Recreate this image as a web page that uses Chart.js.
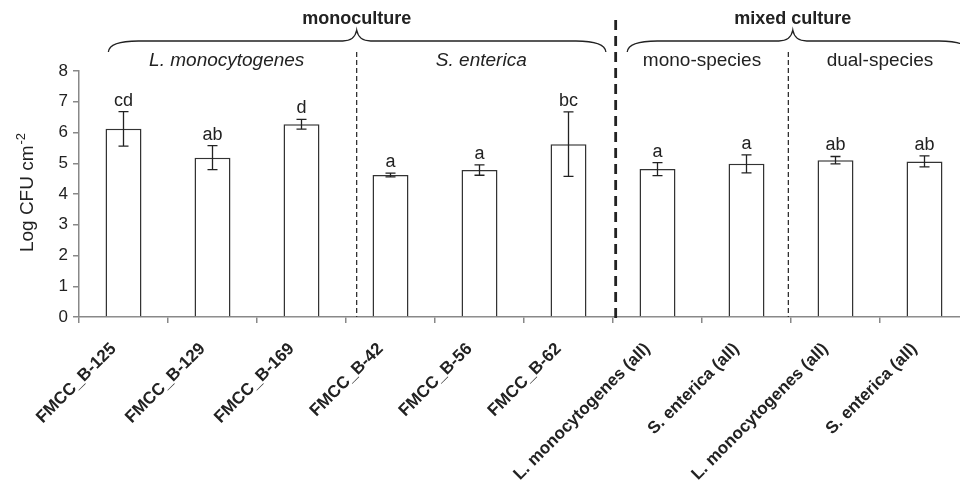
<!DOCTYPE html>
<html>
<head>
<meta charset="utf-8">
<script src="https://cdn.jsdelivr.net/npm/chart.js@4"></script>
<style>
  body { margin: 0; background: #fff; overflow: hidden; }
  #wrap { width: 970px; height: 481px; }
</style>
</head>
<body>
<div id="wrap"><canvas id="cfuChart" width="970" height="481"></canvas></div>
<script>
const labels = [
  "FMCC_B-125", "FMCC_B-129", "FMCC_B-169", "FMCC_B-42", "FMCC_B-56", "FMCC_B-62",
  "L. monocytogenes (all)", "S. enterica (all)", "L. monocytogenes (all)", "S. enterica (all)"
];
const means = [6.12, 5.18, 6.27, 4.62, 4.78, 5.62, 4.81, 4.98, 5.10, 5.06];
const errors = [0.56, 0.39, 0.16, 0.06, 0.17, 1.05, 0.21, 0.29, 0.12, 0.18];
const letters = ["cd", "ab", "d", "a", "a", "bc", "a", "a", "ab", "ab"];
const yTicks = [0, 1, 2, 3, 4, 5, 6, 7, 8];

// group headings, placed by category index
const groups = [
  { text: "monoculture", from: -0.17, tip: 2.62, to: 5.42 },
  { text: "mixed culture", from: 5.66, tip: 7.52, to: 9.5 }
];
const subgroups = [
  { text: "L. monocytogenes", at: 1.16, italic: true },
  { text: "S. enterica", at: 4.02, italic: true },
  { text: "mono-species", at: 6.5, italic: false },
  { text: "dual-species", at: 8.5, italic: false }
];
const dividers = [
  { at: 2.62, top: 52, width: 1.2, dash: [5, 3] },
  { at: 5.53, top: 20, width: 2.8, dash: [10, 6] },
  { at: 7.47, top: 52, width: 1.2, dash: [5, 3] }
];

const FONT = "'Liberation Sans', Arial, sans-serif";

const annotations = {
  id: "annotations",
  afterDatasetsDraw(chart) {
    const ctx = chart.ctx;
    const x = chart.scales.x;
    const y = chart.scales.y;
    const area = chart.chartArea;
    ctx.save();

    // error bars + letters
    ctx.strokeStyle = "#222";
    ctx.lineWidth = 1.3;
    ctx.fillStyle = "#222";
    ctx.font = "18px " + FONT;
    ctx.textAlign = "center";
    ctx.textBaseline = "alphabetic";
    means.forEach((m, i) => {
      const cx = x.getPixelForValue(i);
      const yt = y.getPixelForValue(m + errors[i]);
      const yb = y.getPixelForValue(m - errors[i]);
      ctx.beginPath();
      ctx.moveTo(cx, yt); ctx.lineTo(cx, yb);
      ctx.moveTo(cx - 5, yt); ctx.lineTo(cx + 5, yt);
      ctx.moveTo(cx - 5, yb); ctx.lineTo(cx + 5, yb);
      ctx.stroke();
      ctx.fillText(letters[i], cx, yt - 6);
    });

    // dashed dividers
    dividers.forEach((d) => {
      const px = x.getPixelForValue(d.at);
      ctx.beginPath();
      ctx.setLineDash(d.dash);
      ctx.lineWidth = d.width;
      ctx.strokeStyle = "#222";
      ctx.moveTo(px, d.top);
      ctx.lineTo(px, area.bottom + (d.width > 2 ? 5 : 0));
      ctx.stroke();
    });
    ctx.setLineDash([]);

    // braces and headings
    ctx.lineWidth = 1.3;
    groups.forEach((g) => {
      const x1 = x.getPixelForValue(g.from);
      const xm = x.getPixelForValue(g.tip);
      const x2 = x.getPixelForValue(g.to);
      const yb = 52, yh = 41, yt = 30;
      ctx.beginPath();
      ctx.moveTo(x1, yb);
      ctx.quadraticCurveTo(x1 + 1, yh, x1 + 30, yh);
      ctx.lineTo(xm - 14, yh);
      ctx.quadraticCurveTo(xm - 2, yh, xm, yt);
      ctx.quadraticCurveTo(xm + 2, yh, xm + 14, yh);
      ctx.lineTo(x2 - 30, yh);
      ctx.quadraticCurveTo(x2 - 1, yh, x2, yb);
      ctx.stroke();
      ctx.font = "bold 18px " + FONT;
      ctx.fillText(g.text, xm, 24);
    });
    subgroups.forEach((s) => {
      ctx.font = (s.italic ? "italic " : "") + "19px " + FONT;
      ctx.fillText(s.text, x.getPixelForValue(s.at), 66);
    });

    // y axis title with superscript
    ctx.translate(33, 193);
    ctx.rotate(-Math.PI / 2);
    const main = "Log CFU cm";
    ctx.font = "19px " + FONT;
    const w1 = ctx.measureText(main).width;
    ctx.font = "13px " + FONT;
    const w2 = ctx.measureText("-2").width;
    const start = -(w1 + w2) / 2;
    ctx.textAlign = "left";
    ctx.font = "19px " + FONT;
    ctx.fillText(main, start, 0);
    ctx.font = "13px " + FONT;
    ctx.fillText("-2", start + w1 + 1, -8);
    ctx.restore();
  }
};

new Chart(document.getElementById("cfuChart").getContext("2d"), {
  type: "bar",
  data: {
    labels: labels,
    datasets: [{
      data: means,
      backgroundColor: "#fff",
      borderColor: "#333",
      borderWidth: 1.5,
      categoryPercentage: 1,
      barPercentage: 0.404
    }]
  },
  options: {
    responsive: false,
    animation: false,
    devicePixelRatio: 1,
    layout: { padding: { top: 71, right: 1, left: 0, bottom: 0 } },
    plugins: { legend: { display: false }, tooltip: { enabled: false } },
    scales: {
      x: {
        grid: { offset: true, drawOnChartArea: false, tickLength: 6, color: "#888", lineWidth: 1.5 },
        border: { color: "#888", width: 1.5 },
        ticks: {
          maxRotation: 45, minRotation: 45, padding: 16, labelOffset: -10, color: "#222",
          font: { family: FONT, size: 17, weight: "bold" }
        },
        afterFit: (s) => { s.height = 164; }
      },
      y: {
        min: 0, max: 8,
        afterBuildTicks: (s) => { s.ticks = yTicks.map((v) => ({ value: v })); },
        grid: { drawOnChartArea: false, tickLength: 6, color: "#888", lineWidth: 1.5 },
        border: { color: "#888", width: 1.5 },
        ticks: { padding: 5, color: "#222", font: { family: FONT, size: 17 } },
        afterFit: (s) => { s.width = 79; }
      }
    }
  },
  plugins: [annotations]
});
</script>
</body>
</html>
